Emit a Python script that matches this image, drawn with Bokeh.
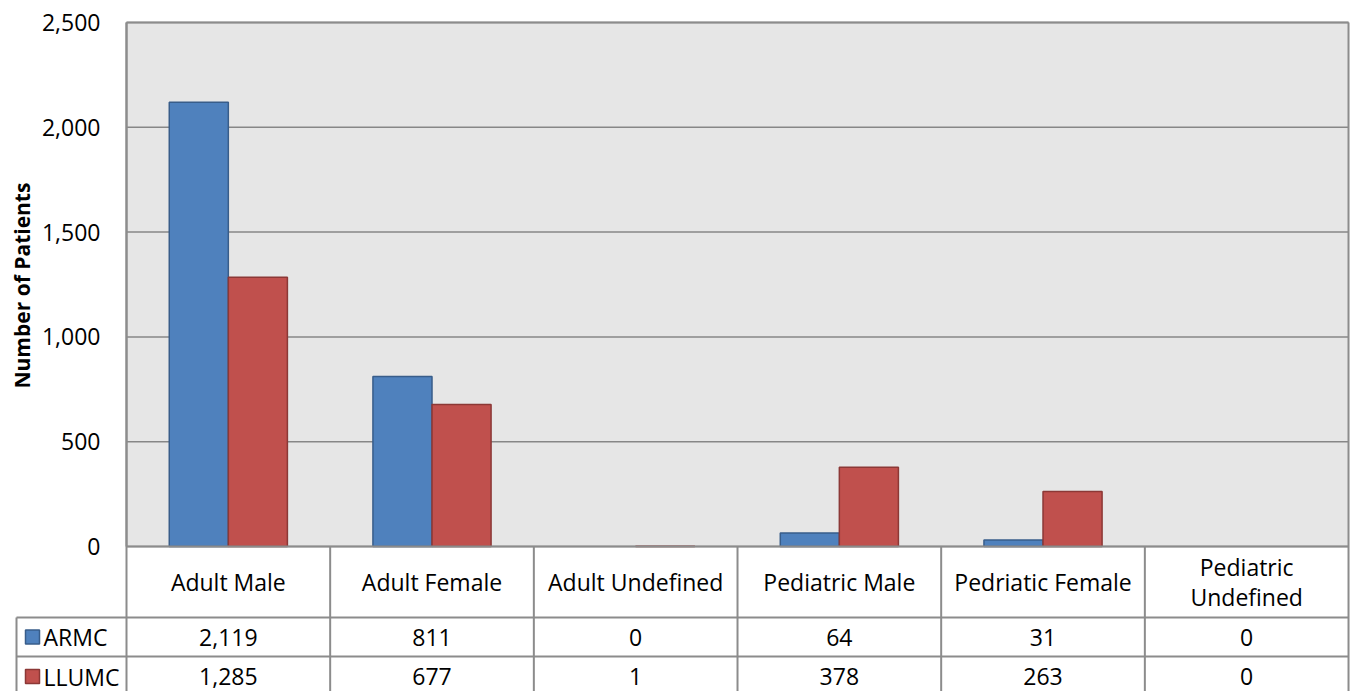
import numpy as np
from bokeh.plotting import figure
from bokeh.models import Range1d, FixedTicker, NumeralTickFormatter, ColumnDataSource
from bokeh.core.properties import value
from bokeh.embed import file_html
from bokeh.resources import INLINE

# ---------------- data ----------------
categories = ["Adult Male", "Adult Female", "Adult Undefined", "Pediatric Male",
              "Pedriatic Female", "Pediatric\nUndefined"]
series_names = ["ARMC", "LLUMC"]
armc = [2119, 811, 0, 64, 31, 0]
llumc = [1285, 677, 1, 378, 263, 0]
y_ticks = [0, 500, 1000, 1500, 2000, 2500]
y_title = "Number of Patients"

# ---------------- layout constants ----------------
W, H = 1356, 691
TOP_PX = 22                  # px from figure top to the 2500 line
PPX = 203.67                 # pixels per category
UPP = 2500 / 524             # data units per pixel (vertical)
AXIS_PX = 126                # px from figure left edge to plot area left
x_start = -AXIS_PX / PPX
x_end = (W - AXIS_PX) / PPX
y_end = 2500 + TOP_PX * UPP
y_start = y_end - H * UPP

FONT = "Open Sans"
FS = "23px"
BLUE, BLUE_D = "#4F81BD", "#385D8A"
RED, RED_D = "#C0504D", "#8C3836"
GRAY_BG = "#E6E6E6"
LINE = "#8C8C8C"
GRID = "#878787"

n = len(categories)
xs = np.arange(n) + 0.5
bw = 0.29

p = figure(width=W, height=H, output_backend="svg", toolbar_location=None, tools="",
           x_range=Range1d(x_start, x_end), y_range=Range1d(y_start, y_end),
           min_border_left=0, min_border_right=0, min_border_top=0, min_border_bottom=0)
p.background_fill_color = "white"
p.border_fill_color = "white"
p.outline_line_color = None
p.xaxis.visible = False
p.xgrid.visible = False
p.ygrid.visible = False

# y axis at x = 0 (plot area left edge)
yax = p.yaxis[0]
yax.fixed_location = 0
yax.bounds = (0, 2500)
yax.ticker = FixedTicker(ticks=y_ticks)
yax.formatter = NumeralTickFormatter(format="0,0")
yax.major_tick_out = 0
yax.major_tick_in = 0
yax.minor_tick_out = 0
yax.minor_tick_in = 0
yax.axis_line_color = LINE
yax.axis_line_width = 2
yax.major_label_standoff = 26
yax.major_label_text_font = FONT
yax.major_label_text_font_size = FS
yax.major_label_text_color = "black"

# table row geometry (in data units below zero)
hdr_bot = -71 * UPP
r1_bot = -110 * UPP
r2_bot = -150 * UPP
hdr_mid = hdr_bot / 2
r1_mid = (hdr_bot + r1_bot) / 2
r2_mid = (r1_bot + r2_bot) / 2
leg_left = (16 - AXIS_PX) / PPX
yb = y_start - 100

# plot area background
p.quad(left=[0], right=[n], bottom=[0], top=[y_ticks[-1]], fill_color=GRAY_BG, line_color=None)

# horizontal grid lines at the tick values, spanning the plot area
p.segment(x0=[0] * len(y_ticks), x1=[n] * len(y_ticks), y0=y_ticks, y1=y_ticks,
          line_color=GRID, line_width=1.5)

# bars
def bar_src(vals, offset):
    return ColumnDataSource(dict(x=xs + offset, top=vals,
                                 la=[1.0 if v > 0 else 0.0 for v in vals]))

p.vbar(x="x", top="top", bottom=0, width=bw, source=bar_src(armc, -bw / 2),
       fill_color=BLUE, line_color=BLUE_D, line_width=1.5, line_alpha="la")
p.vbar(x="x", top="top", bottom=0, width=bw, source=bar_src(llumc, bw / 2),
       fill_color=RED, line_color=RED_D, line_width=1.5, line_alpha="la")

# borders of plot area and table
seg_x0 = [0, n, 0, 0, leg_left, leg_left] + list(range(1, n))
seg_x1 = [0, n, n, n, n, n] + list(range(1, n))
seg_y0 = [2500, 2500, 2500, 0, hdr_bot, r1_bot] + [0] * (n - 1)
seg_y1 = [yb, yb, 2500, 0, hdr_bot, r1_bot] + [yb] * (n - 1)
p.segment(x0=seg_x0, y0=seg_y0, x1=seg_x1, y1=seg_y1, line_color=LINE, line_width=2)
p.segment(x0=[leg_left], y0=[hdr_bot], x1=[leg_left], y1=[yb], line_color=LINE, line_width=2)

# header texts
p.text(x=xs, y=[hdr_mid] * n, text=categories, text_align="center", text_baseline="middle",
       text_font=value(FONT), text_font_size=FS, text_color="black", text_line_height=0.96)
# values
p.text(x=xs, y=[r1_mid] * n, text=[f"{v:,}" for v in armc], text_align="center",
       text_baseline="middle", text_font=value(FONT), text_font_size=FS, text_color="black")
p.text(x=xs, y=[r2_mid] * n, text=[f"{v:,}" for v in llumc], text_align="center",
       text_baseline="middle", text_font=value(FONT), text_font_size=FS, text_color="black")

# legend keys in table
p.scatter(x=[(32 - AXIS_PX) / PPX] * 2, y=[r1_mid, r2_mid], marker="square", size=14,
          fill_color=[BLUE, RED], line_color=[BLUE_D, RED_D], line_width=1.5)
p.text(x=[(43 - AXIS_PX) / PPX] * 2, y=[r1_mid, r2_mid], text=series_names, text_align="left",
       text_baseline="middle", text_font=value(FONT), text_font_size=FS, text_color="black")

# y axis title
p.text(x=[(21 - AXIS_PX) / PPX], y=[1245], text=[y_title], angle=np.pi / 2, text_align="center",
       text_baseline="middle", text_font=value(FONT), text_font_size="21px",
       text_font_style="bold", text_color="black")

open("out.html", "w").write(file_html(p, INLINE))
